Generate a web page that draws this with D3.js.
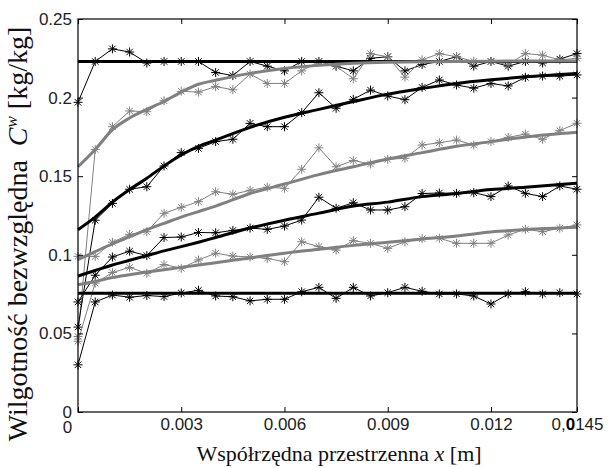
<!DOCTYPE html>
<html>
<head>
<meta charset="utf-8">
<script src="https://cdn.jsdelivr.net/npm/d3@7"></script>
<style>
body { margin: 0; background: #fff; }
svg { display: block; }
.tick text { font-family: 'Liberation Sans', Arial, Helvetica, sans-serif; }
.title { font-family: 'Liberation Serif', 'Times New Roman', Times, 'DejaVu Serif', serif; }
</style>
</head>
<body>
<script>
// x positions of measurement points [m]
var xs = [0, 0.0005, 0.001, 0.0015, 0.002, 0.0025, 0.003, 0.0035, 0.004, 0.0045,
  0.005, 0.0055, 0.006, 0.0065, 0.007, 0.0075, 0.008, 0.0085, 0.009, 0.0095,
  0.01, 0.0105, 0.011, 0.0115, 0.012, 0.0125, 0.013, 0.0135, 0.014, 0.0145];

// measured profiles (stars)
var measA = [0.197, 0.223, 0.231, 0.229, 0.222, 0.223, 0.223, 0.223, 0.216, 0.214, 0.223, 0.220, 0.217, 0.223, 0.223, 0.220, 0.217, 0.225, 0.226, 0.217, 0.221, 0.223, 0.226, 0.220, 0.223, 0.220, 0.223, 0.222, 0.2245, 0.228];
var measB = [0.048, 0.167, 0.1815, 0.1915, 0.191, 0.198, 0.204, 0.2035, 0.207, 0.205, 0.215, 0.209, 0.209, 0.217, 0.223, 0.220, 0.212, 0.228, 0.226, 0.213, 0.224, 0.228, 0.226, 0.223, 0.223, 0.221, 0.228, 0.227, 0.224, 0.225];
var measC = [0.054, 0.122, 0.1327, 0.1417, 0.1433, 0.1565, 0.165, 0.1677, 0.172, 0.1735, 0.1836, 0.1815, 0.1815, 0.1904, 0.2031, 0.1932, 0.1989, 0.2048, 0.201, 0.1987, 0.2065, 0.2112, 0.208, 0.206, 0.209, 0.2074, 0.2129, 0.2137, 0.2137, 0.2144];
var measD = [0.099, 0.099, 0.108, 0.113, 0.1147, 0.1264, 0.1302, 0.1338, 0.1401, 0.1385, 0.141, 0.143, 0.1423, 0.1544, 0.168, 0.156, 0.160, 0.1578, 0.1607, 0.1614, 0.1698, 0.1713, 0.173, 0.1698, 0.172, 0.1747, 0.1768, 0.1735, 0.179, 0.1837];
var measE = [0.070, 0.087, 0.0986, 0.1023, 0.0995, 0.111, 0.1113, 0.1142, 0.114, 0.1155, 0.117, 0.1162, 0.1183, 0.1221, 0.1366, 0.1296, 0.1331, 0.1285, 0.1285, 0.1306, 0.139, 0.1393, 0.1391, 0.1395, 0.137, 0.1438, 0.1391, 0.137, 0.1438, 0.1417];
var measF = [0.045, 0.082, 0.0887, 0.092, 0.0882, 0.0938, 0.0914, 0.0967, 0.101, 0.0992, 0.0986, 0.0977, 0.0956, 0.1083, 0.1052, 0.103, 0.109, 0.1073, 0.1041, 0.1083, 0.1102, 0.1105, 0.1073, 0.1073, 0.1073, 0.1126, 0.1162, 0.1147, 0.1169, 0.119];
var measG = [0.030, 0.070, 0.0744, 0.073, 0.0741, 0.0734, 0.0757, 0.0774, 0.0738, 0.0733, 0.0707, 0.0717, 0.0717, 0.0765, 0.0793, 0.0723, 0.0793, 0.0738, 0.0759, 0.0793, 0.0768, 0.0751, 0.0751, 0.0738, 0.0687, 0.0751, 0.0765, 0.0751, 0.0759, 0.0751];

// model profiles (thick lines)
var fitX = [0, 0.0005, 0.001, 0.0015, 0.002, 0.0025, 0.003, 0.0035, 0.004, 0.005, 0.006, 0.007, 0.008, 0.009, 0.01, 0.011, 0.012, 0.013, 0.0145];
var fitA = [0.223, 0.223, 0.223, 0.223, 0.223, 0.223, 0.223, 0.223, 0.223, 0.223, 0.223, 0.223, 0.223, 0.223, 0.223, 0.223, 0.223, 0.223, 0.223];
var fitB = [0.156, 0.167, 0.1795, 0.187, 0.1925, 0.1975, 0.2035, 0.2085, 0.211, 0.2154, 0.2185, 0.2205, 0.2218, 0.2225, 0.2228, 0.223, 0.2232, 0.2233, 0.2233];
var fitC = [0.116, 0.124, 0.1335, 0.1415, 0.1487, 0.1565, 0.1635, 0.169, 0.173, 0.1811, 0.1875, 0.1925, 0.1975, 0.2022, 0.2058, 0.209, 0.2113, 0.2132, 0.2154];
var fitD = [0.097, 0.102, 0.107, 0.1115, 0.116, 0.120, 0.124, 0.1275, 0.131, 0.139, 0.145, 0.151, 0.156, 0.161, 0.165, 0.169, 0.172, 0.175, 0.178];
var fitE = [0.0865, 0.090, 0.0935, 0.0965, 0.0995, 0.1025, 0.1052, 0.108, 0.111, 0.117, 0.122, 0.1265, 0.131, 0.1335, 0.137, 0.139, 0.1415, 0.143, 0.1455];
var fitF = [0.081, 0.083, 0.0855, 0.0873, 0.089, 0.0905, 0.092, 0.0935, 0.095, 0.098, 0.101, 0.1035, 0.106, 0.108, 0.110, 0.112, 0.1145, 0.116, 0.1175];
var fitG = [0.0755, 0.0755, 0.0755, 0.0755, 0.0755, 0.0755, 0.0755, 0.0755, 0.0755, 0.0755, 0.0755, 0.0755, 0.0755, 0.0755, 0.0755, 0.0755, 0.0755, 0.0755, 0.0755];

var xTicks = [0, 0.003, 0.006, 0.009, 0.012, 0.0145];
var xTickLabels = ['0', '0.003', '0.006', '0.009', '0.012', '0,0145'];
var yTicks = [0, 0.05, 0.1, 0.15, 0.2, 0.25];
var yTickLabels = ['0', '0.05', '0.1', '0.15', '0.2', '0.25'];

var black = '#000', gray = '#808080';
var series = [
  {m: measA, f: fitA, c: black},
  {m: measB, f: fitB, c: gray},
  {m: measC, f: fitC, c: black},
  {m: measD, f: fitD, c: gray},
  {m: measE, f: fitE, c: black},
  {m: measF, f: fitF, c: gray},
  {m: measG, f: fitG, c: black}
];

var W = 609, H = 468;
var L = 78, R = 577, T = 19, B = 412;

var svg = d3.select('body').append('svg').attr('width', W).attr('height', H);

var x = d3.scaleLinear().domain([0, 0.0145]).range([L, R]);
var y = d3.scaleLinear().domain([0, 0.25]).range([B, T]);

var line = d3.line().x(function(d, i) { return x(xs[i]); }).y(function(d) { return y(d); });
var fitLine = d3.line().x(function(d, i) { return x(fitX[i]); }).y(function(d) { return y(d); }).curve(d3.curveMonotoneX);

// asterisk marker
var s = 4.5, a = 3.2;
var star = 'M' + (-s) + ',0H' + s + 'M0,' + (-s) + 'V' + s +
  'M' + (-a) + ',' + (-a) + 'L' + a + ',' + a + 'M' + (-a) + ',' + a + 'L' + a + ',' + (-a);

series.forEach(function(sr) {
  svg.append('path').attr('d', line(sr.m)).attr('fill', 'none')
    .attr('stroke', sr.c).attr('stroke-width', 1);
  svg.append('g').selectAll('path').data(sr.m).enter().append('path')
    .attr('transform', function(d, i) { return 'translate(' + x(xs[i]) + ',' + y(d) + ')'; })
    .attr('d', star).attr('fill', 'none').attr('stroke', sr.c).attr('stroke-width', 1);
});

series.forEach(function(sr) {
  svg.append('path').attr('d', fitLine(sr.f)).attr('fill', 'none')
    .attr('stroke', sr.c).attr('stroke-width', 3);
});

// box
svg.append('rect').attr('x', L).attr('y', T).attr('width', R - L).attr('height', B - T)
  .attr('fill', 'none').attr('stroke', '#000').attr('stroke-width', 1.2);

// axes, ticks pointing in
var xAxis = svg.append('g').attr('transform', 'translate(0,' + B + ')')
  .call(d3.axisBottom(x).tickValues(xTicks).tickFormat(function(d, i) { return xTickLabels[i]; })
    .tickSizeInner(-5).tickSizeOuter(0).tickPadding(6));
var xTop = svg.append('g').attr('transform', 'translate(0,' + T + ')')
  .call(d3.axisTop(x).tickValues(xTicks).tickFormat('').tickSizeInner(-5).tickSizeOuter(0));
var yAxis = svg.append('g').attr('transform', 'translate(' + L + ',0)')
  .call(d3.axisLeft(y).tickValues(yTicks).tickFormat(function(d, i) { return yTickLabels[i]; })
    .tickSizeInner(-5).tickSizeOuter(0).tickPadding(6));
var yRight = svg.append('g').attr('transform', 'translate(' + R + ',0)')
  .call(d3.axisRight(y).tickValues(yTicks).tickFormat('').tickSizeInner(-5).tickSizeOuter(0));

[xAxis, xTop, yAxis, yRight].forEach(function(g) {
  g.attr('font-family', null).attr('font-size', null);
  g.select('.domain').remove();
  g.selectAll('line').attr('stroke', '#000');
  g.selectAll('text').attr('font-size', 17).attr('fill', '#222');
});

// x "0" sits just under the y "0"
xAxis.selectAll('text').filter(function(d, i) { return i === 0; }).attr('dx', -11).attr('dy', '0.9em');
// last label with the bold zero
var last = xAxis.selectAll('text').filter(function(d, i) { return i === xTicks.length - 1; });
last.text('');
last.append('tspan').text('0,');
last.append('tspan').attr('font-weight', 'bold').attr('fill', '#000').text('0');
last.append('tspan').text('145');

// titles
var xt = svg.append('text').attr('class', 'title').attr('x', 339).attr('y', 461)
  .attr('text-anchor', 'middle').attr('font-size', 22).attr('fill', '#111');
xt.append('tspan').text('Współrzędna przestrzenna ');
xt.append('tspan').attr('font-style', 'italic').text('x');
xt.append('tspan').text(' [m]');

var yt = svg.append('text').attr('class', 'title').attr('transform', 'translate(27,234) rotate(-90)')
  .attr('text-anchor', 'middle').attr('font-size', 28)
  .attr('fill', '#111').style('white-space', 'pre');
yt.append('tspan').text('Wilgotność bezwzględna  ');
yt.append('tspan').attr('font-style', 'italic').text('C');
yt.append('tspan').attr('font-style', 'italic').attr('font-size', 17).attr('dy', -10).text('w');
yt.append('tspan').attr('dy', 10).text(' [kg/kg]');
</script>
</body>
</html>
